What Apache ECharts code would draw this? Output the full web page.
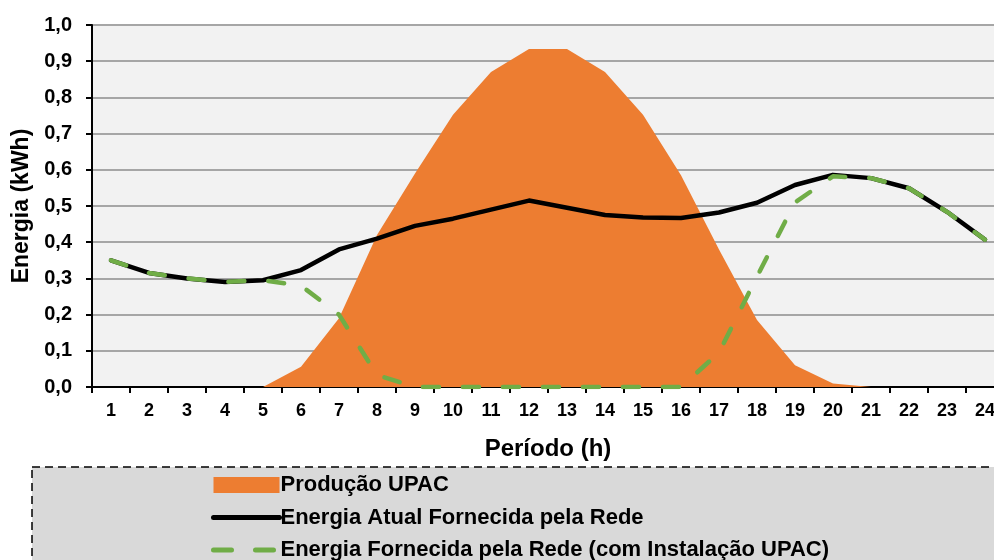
<!DOCTYPE html>
<html>
<head>
<meta charset="utf-8">
<script src="https://cdn.jsdelivr.net/npm/echarts@6/dist/echarts.min.js"></script>
<style>
    html, body { margin: 0; padding: 0; background: #fff; }
    #chart { width: 994px; height: 560px; }
</style>
</head>
<body>
<div id="chart"></div>
<script>
// horas do dia
var periodos = ['1', '2', '3', '4', '5', '6', '7', '8', '9', '10', '11', '12',
    '13', '14', '15', '16', '17', '18', '19', '20', '21', '22', '23', '24'];
// produção da UPAC (kWh)
var producaoUpac = [0, 0, 0, 0, 0, 0.056, 0.19, 0.42, 0.59, 0.752, 0.87, 0.934,
    0.934, 0.87, 0.752, 0.585, 0.38, 0.185, 0.06, 0.01, 0, 0, 0, 0];
// consumo atual à rede
var energiaAtual = [0.35, 0.315, 0.30, 0.29, 0.295, 0.323, 0.38, 0.41, 0.445, 0.465, 0.49, 0.515,
    0.495, 0.475, 0.468, 0.467, 0.482, 0.509, 0.558, 0.586, 0.577, 0.549, 0.484, 0.407];
// consumo à rede depois da UPAC
var energiaComUpac = [0.35, 0.315, 0.30, 0.29, 0.295, 0.28, 0.2, 0.033, 0, 0, 0, 0,
    0, 0, 0, 0, 0.095, 0.305, 0.51, 0.582, 0.577, 0.549, 0.484, 0.407];
var yTicks = [0, 0.1, 0.2, 0.3, 0.4, 0.5, 0.6, 0.7, 0.8, 0.9, 1.0];

var fonte = "'Liberation Sans', Arial, sans-serif";
var myChart = echarts.init(document.getElementById('chart'));

var option = {
    animation: false,
    backgroundColor: '#fff',
    textStyle: { fontFamily: fonte },
    grid: {
        left: 92,
        top: 25,
        width: 912,
        height: 362,
        show: true,
        backgroundColor: '#F2F2F2',
        borderWidth: 0,
        containLabel: false,
        outerBoundsMode: 'none'
    },
    graphic: [
        {
            // caixa da legenda
            type: 'rect',
            z: 0,
            silent: true,
            shape: { x: 32, y: 467, width: 1000, height: 130 },
            style: {
                fill: '#D9D9D9',
                stroke: '#000',
                lineWidth: 1.5,
                lineDash: [8, 5]
            }
        }
    ],
    legend: {
        orient: 'vertical',
        left: 211,
        top: 474,
        height: 120,
        padding: 0,
        itemWidth: 66,
        itemHeight: 16,
        itemGap: 10.5,
        selectedMode: false,
        textStyle: {
            color: '#000',
            fontWeight: 'bold',
            fontSize: 22,
            lineHeight: 22,
            fontFamily: fonte,
            padding: [0, 0, 0, -4]
        },
        data: [
            { name: 'Produção UPAC', icon: 'rect' },
            {
                name: 'Energia Atual Fornecida pela Rede',
                itemStyle: { opacity: 0 },
                lineStyle: { width: 5, cap: 'round' }
            },
            {
                name: 'Energia Fornecida pela Rede (com Instalação UPAC)',
                itemStyle: { opacity: 0 },
                lineStyle: { width: 5, type: [18, 24], cap: 'round' }
            }
        ]
    },
    xAxis: {
        type: 'category',
        data: periodos,
        boundaryGap: true,
        name: 'Período (h)',
        nameLocation: 'middle',
        nameGap: 50,
        nameTextStyle: { color: '#000', fontWeight: 'bold', fontSize: 24, fontFamily: fonte },
        axisLine: { lineStyle: { color: '#000', width: 2 } },
        axisTick: { show: true, interval: 0, length: 6, lineStyle: { color: '#000', width: 2 } },
        axisLabel: {
            interval: 0,
            margin: 15,
            color: '#000',
            fontWeight: 'bold',
            fontSize: 18,
            fontFamily: fonte
        },
        splitLine: { show: false }
    },
    yAxis: {
        type: 'value',
        min: 0,
        max: 1,
        interval: 0.1,
        name: 'Energia (kWh)',
        nameLocation: 'middle',
        nameGap: 58,
        nameTextStyle: { color: '#000', fontWeight: 'bold', fontSize: 23, fontFamily: fonte },
        axisLine: { show: true, lineStyle: { color: '#000', width: 2 } },
        axisTick: { show: true, length: 6, lineStyle: { color: '#000', width: 2 } },
        axisLabel: {
            margin: 20,
            color: '#000',
            fontWeight: 'bold',
            fontSize: 20,
            fontFamily: fonte,
            formatter: function (v) {
                // vírgula decimal
                var t = yTicks.find(function (k) { return Math.abs(k - v) < 1e-6; });
                return (t === undefined ? v : t).toFixed(1).replace('.', ',');
            }
        },
        splitLine: { show: true, lineStyle: { color: '#A6A6A6', width: 2 } }
    },
    series: [
        {
            name: 'Produção UPAC',
            type: 'line',
            data: producaoUpac,
            symbol: 'none',
            itemStyle: { color: '#ED7D31' },
            lineStyle: { width: 0, color: '#ED7D31' },
            areaStyle: { color: '#ED7D31', opacity: 1 },
            z: 1
        },
        {
            name: 'Energia Atual Fornecida pela Rede',
            type: 'line',
            data: energiaAtual,
            symbol: 'none',
            itemStyle: { color: '#000' },
            lineStyle: { color: '#000', width: 4.5, cap: 'round', join: 'round' },
            z: 2
        },
        {
            name: 'Energia Fornecida pela Rede (com Instalação UPAC)',
            type: 'line',
            data: energiaComUpac,
            symbol: 'none',
            itemStyle: { color: '#70AD47' },
            lineStyle: { color: '#70AD47', width: 4.5, type: [16, 24], cap: 'round', join: 'round' },
            z: 3
        }
    ]
};

myChart.setOption(option);
</script>
</body>
</html>
